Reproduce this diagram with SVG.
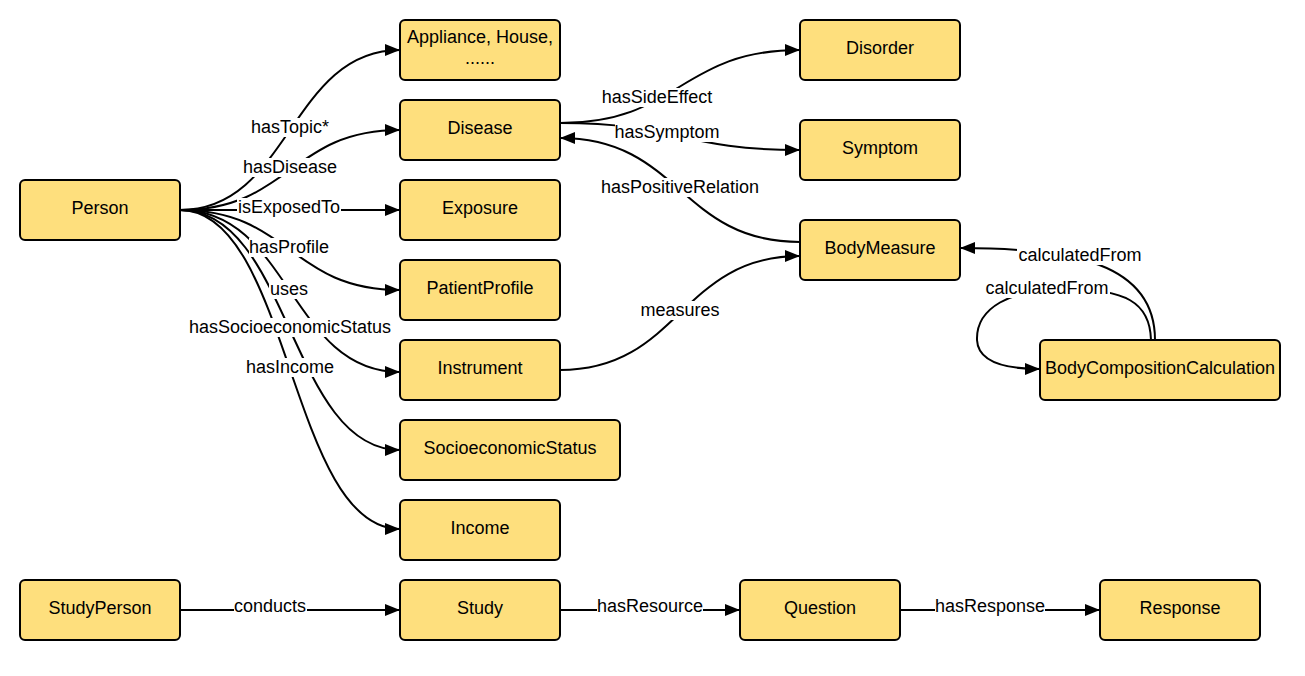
<svg xmlns="http://www.w3.org/2000/svg" width="1305" height="676" viewBox="0 0 1305 676">
<style>
.node rect{fill:#fedf7d;stroke:#000;stroke-width:2}
.node text{font-family:"Liberation Sans",Arial,sans-serif;font-size:18px;fill:#000;text-anchor:middle}
.edge{fill:none;stroke:#000;stroke-width:2;marker-end:url(#arrow)}
.lbl rect{fill:#fff}
.lbl text{font-family:"Liberation Sans",Arial,sans-serif;font-size:18px;fill:#000;text-anchor:middle}
</style>
<defs>
<marker id="arrow" markerUnits="userSpaceOnUse" markerWidth="16" markerHeight="12" refX="15" refY="6" orient="auto">
<path d="M0,0 L15,6 L0,12 z" fill="#000"/>
</marker>
</defs>
<rect width="1305" height="676" fill="#fff"/>
<g id="connectors">
<path class="edge" d="M180,210 C290,210 290,50 400,50"/>
<path class="edge" d="M180,210 C290,210 290,130 400,130"/>
<path class="edge" d="M180,210 L400,210"/>
<path class="edge" d="M180,210 C290,210 290,290 400,290"/>
<path class="edge" d="M180,210 C290,210 290,372 400,372"/>
<path class="edge" d="M180,210 C290,210 290,450 400,450"/>
<path class="edge" d="M180,210 C290,210 290,529 400,529"/>
<path class="edge" d="M560,123 C680,123 680,50 800,50"/>
<path class="edge" d="M560,123 C680,123 680,150 800,150"/>
<path class="edge" d="M800,242 C680,242 680,138 560,138"/>
<path class="edge" d="M560,370 C680,370 680,256 800,256"/>
<path class="edge" d="M1155,340 C1155,262 1070,248 960,248"/>
<path class="edge" d="M1151,340 C1150,302 1125,289 1065,289 C1010,289 976,308 977,340 C978,362 1005,369 1040,369"/>
<path class="edge" d="M180,610 L400,610"/>
<path class="edge" d="M560,610 L740,610"/>
<path class="edge" d="M900,610 L1100,610"/>
<g class="lbl">
<rect x="250" y="118" width="80" height="19"/><text x="290" y="133">hasTopic*</text>
<rect x="243" y="158" width="94" height="19"/><text x="290" y="173">hasDisease</text>
<rect x="237" y="198" width="104" height="19"/><text x="289" y="213">isExposedTo</text>
<rect x="249" y="238" width="80" height="19"/><text x="289" y="253">hasProfile</text>
<rect x="269" y="280" width="40" height="19"/><text x="289" y="295">uses</text>
<rect x="189" y="318" width="202" height="19"/><text x="290" y="333">hasSocioeconomicStatus</text>
<rect x="245" y="358" width="90" height="19"/><text x="290" y="373">hasIncome</text>
<rect x="601" y="88" width="112" height="19"/><text x="657" y="103">hasSideEffect</text>
<rect x="615" y="123" width="104" height="19"/><text x="667" y="138">hasSymptom</text>
<rect x="595" y="178" width="170" height="19"/><text x="680" y="193">hasPositiveRelation</text>
<rect x="640" y="301" width="80" height="19"/><text x="680" y="316">measures</text>
<rect x="1017" y="246" width="126" height="19"/><text x="1080" y="261">calculatedFrom</text>
<rect x="984" y="279" width="126" height="19"/><text x="1047" y="294">calculatedFrom</text>
<rect x="234" y="597" width="73" height="19"/><text x="270" y="612">conducts</text>
<rect x="597" y="597" width="106" height="19"/><text x="650" y="612">hasResource</text>
<rect x="935" y="597" width="110" height="19"/><text x="990" y="612">hasResponse</text>
</g>
</g>
<g id="node-person" class="node"><rect x="20" y="180" width="160" height="60" rx="5"/><text x="100" y="214">Person</text></g>
<g id="node-appliance" class="node"><rect x="400" y="20" width="160" height="60" rx="5"/><text x="480" y="43">Appliance, House,</text><text x="480" y="64">......</text></g>
<g id="node-disease" class="node"><rect x="400" y="100" width="160" height="60" rx="5"/><text x="480" y="134">Disease</text></g>
<g id="node-exposure" class="node"><rect x="400" y="180" width="160" height="60" rx="5"/><text x="480" y="214">Exposure</text></g>
<g id="node-patientprofile" class="node"><rect x="400" y="260" width="160" height="60" rx="5"/><text x="480" y="294">PatientProfile</text></g>
<g id="node-instrument" class="node"><rect x="400" y="340" width="160" height="60" rx="5"/><text x="480" y="374">Instrument</text></g>
<g id="node-socioeconomicstatus" class="node"><rect x="400" y="420" width="220" height="60" rx="5"/><text x="510" y="454">SocioeconomicStatus</text></g>
<g id="node-income" class="node"><rect x="400" y="500" width="160" height="60" rx="5"/><text x="480" y="534">Income</text></g>
<g id="node-disorder" class="node"><rect x="800" y="20" width="160" height="60" rx="5"/><text x="880" y="54">Disorder</text></g>
<g id="node-symptom" class="node"><rect x="800" y="120" width="160" height="60" rx="5"/><text x="880" y="154">Symptom</text></g>
<g id="node-bodymeasure" class="node"><rect x="800" y="220" width="160" height="60" rx="5"/><text x="880" y="254">BodyMeasure</text></g>
<g id="node-bodycompositioncalculation" class="node"><rect x="1040" y="340" width="240" height="60" rx="5"/><text x="1160" y="374">BodyCompositionCalculation</text></g>
<g id="node-studyperson" class="node"><rect x="20" y="580" width="160" height="60" rx="5"/><text x="100" y="614">StudyPerson</text></g>
<g id="node-study" class="node"><rect x="400" y="580" width="160" height="60" rx="5"/><text x="480" y="614">Study</text></g>
<g id="node-question" class="node"><rect x="740" y="580" width="160" height="60" rx="5"/><text x="820" y="614">Question</text></g>
<g id="node-response" class="node"><rect x="1100" y="580" width="160" height="60" rx="5"/><text x="1180" y="614">Response</text></g>
</svg>
